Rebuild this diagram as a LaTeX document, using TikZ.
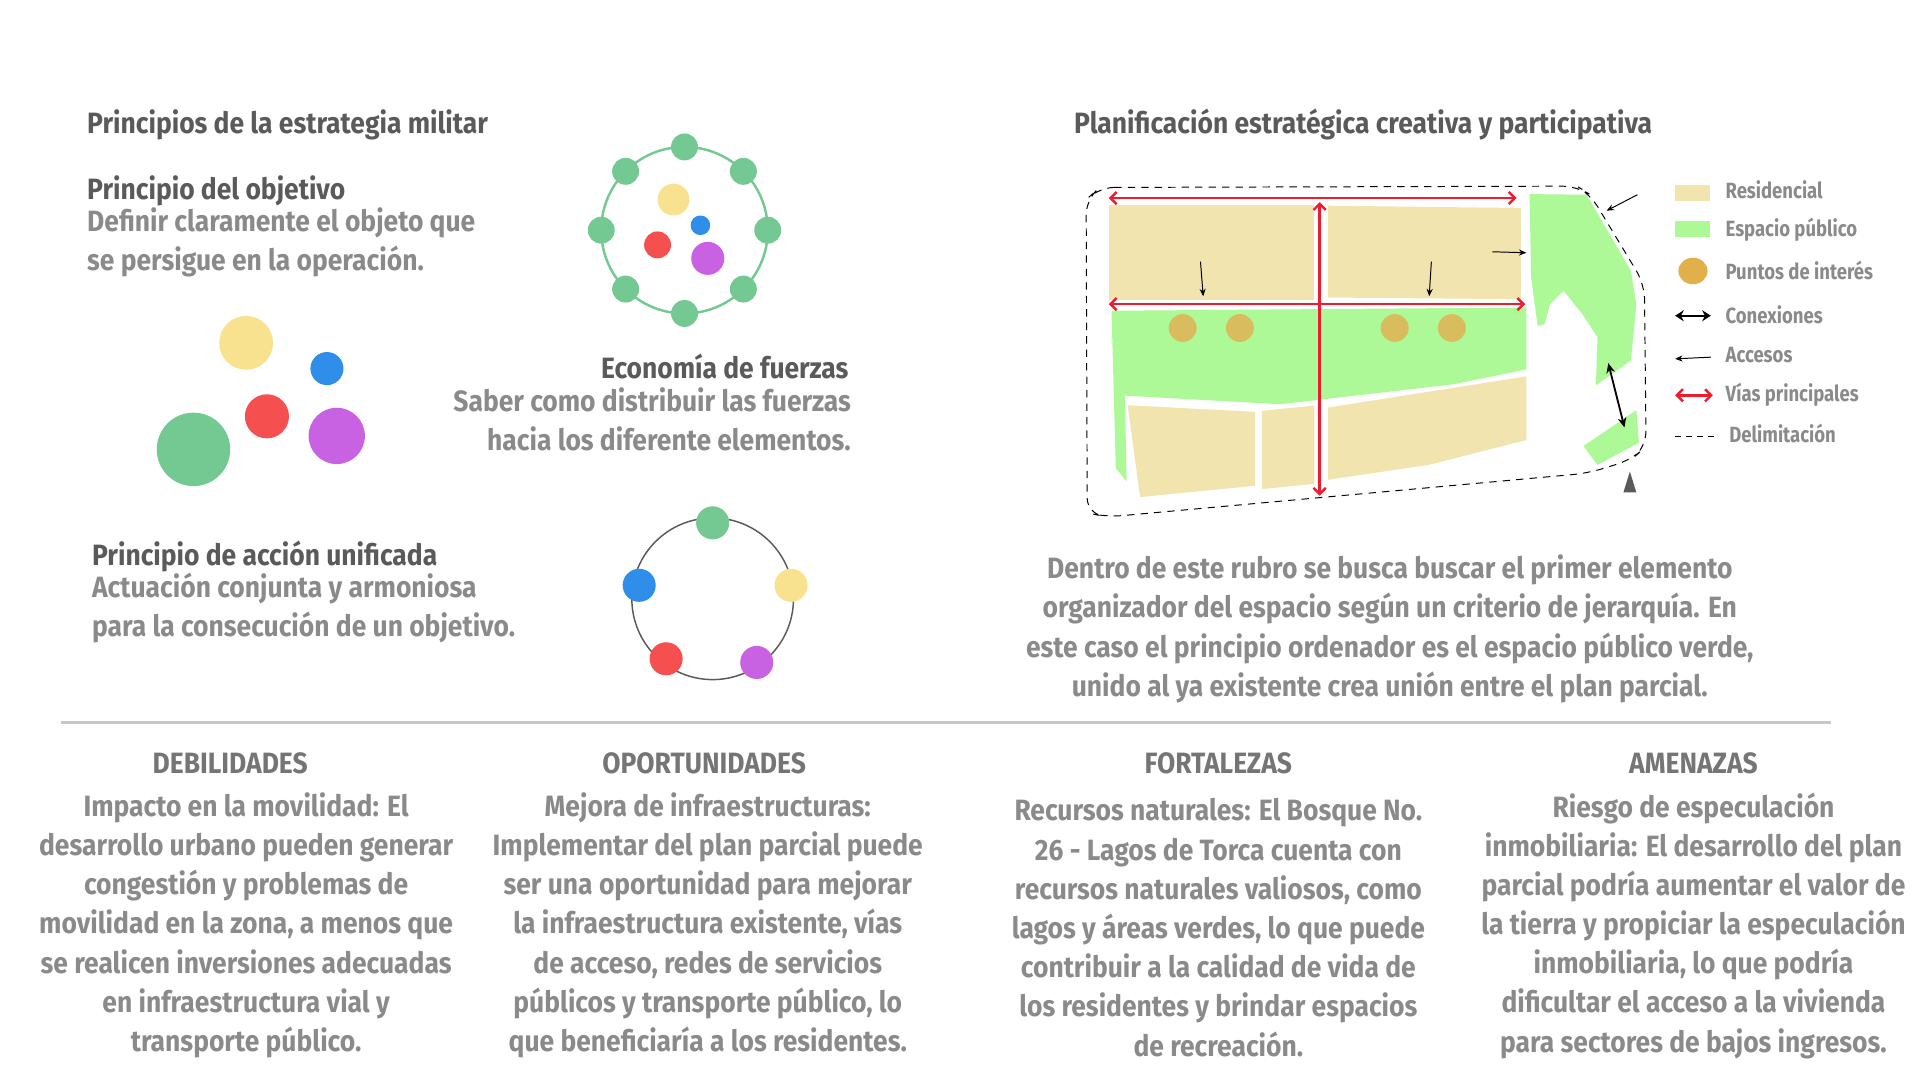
\documentclass[tikz,border=0pt]{standalone}
\usepackage{fontspec}
\setmainfont{Fira Sans}[FakeStretch=0.9]
\usetikzlibrary{arrows.meta,calc}
\definecolor{tdark}{HTML}{5A5A5A}
\definecolor{tgray}{HTML}{8A8A8A}
\definecolor{res}{HTML}{F1E4AE}
\definecolor{pub}{HTML}{AEF997}
\definecolor{poi}{HTML}{D9BC5E}
\definecolor{cgreen}{HTML}{73C991}
\definecolor{cyellow}{HTML}{F8E28F}
\definecolor{cblue}{HTML}{2E8EEA}
\definecolor{cred}{HTML}{F5504F}
\definecolor{cpurple}{HTML}{C962E2}
\definecolor{vred}{HTML}{EE1C2E}
\tikzset{
 ttl/.style={anchor=base west,font=\fontsize{24}{32}\selectfont\bfseries,text=tdark,inner sep=0},
 body/.style={anchor=base west,font=\fontsize{24}{32}\selectfont\bfseries,text=tgray,inner sep=0,align=left},
 bodyc/.style={anchor=north,font=\fontsize{24}{32}\selectfont\bfseries,text=tgray,inner sep=0,align=center},
 hdr/.style={anchor=base,font=\fontsize{24}{32}\selectfont\bfseries,text=tgray!85!black,inner sep=0},
 dot/.style={circle,inner sep=0,minimum size=#1},
 vred/.style={draw=vred,line width=2pt,{Straight Barb[length=5pt,width=10pt]}-{Straight Barb[length=5pt,width=10pt]}},
 acc/.style={draw=black,line width=0.8pt,-{Stealth[length=6pt,width=5pt]}},
 lgd/.style={anchor=west,font=\fontsize{18}{20}\selectfont\bfseries\addfontfeature{FakeStretch=0.84},text=tgray,inner sep=0},
}
\begin{document}
\begin{tikzpicture}[x=1pt,y=-1pt]
\useasboundingbox (0,0) rectangle (1568,882);
% left titles
\node[ttl] (t1) at (71,109) {Principios de la estrategia militar};
\node[ttl] (t2) at (877,109) {Planificación estratégica creativa y participativa};
\node[ttl] (p1) at (71,163) {Principio del objetivo};
\node[body] (p1b) at (71,221) {Definir claramente el objeto que\\se persigue en la operación.};
% circles cluster
\node[dot=44,fill=cyellow] (c1) at (201,280) {};
\node[dot=27,fill=cblue] (c2) at (267,301) {};
\node[dot=36,fill=cred] (c3) at (218,340) {};
\node[dot=46,fill=cpurple] (c4) at (275,356) {};
\node[dot=60,fill=cgreen] (c5) at (158,367) {};
% top ring
\node[circle,draw=cgreen,line width=2pt,minimum size=136,inner sep=0] (r1) at (559,188) {};
\foreach \a in {0,45,...,315}{\node[dot=22,fill=cgreen] at ($(559,188)+(\a:68)$) {};}
\node[dot=26,fill=cyellow] (i1) at (550,163) {};
\node[dot=16,fill=cblue] (i2) at (572,184) {};
\node[dot=22,fill=cred] (i3) at (537,200) {};
\node[dot=27,fill=cpurple] (i4) at (578,211) {};
\node[ttl,anchor=base east] (e1) at (693,309) {Economía de fuerzas};
\node[body,anchor=base east,align=right] (e2) at (695,368) {Saber como distribuir las fuerzas\\hacia los diferente elementos.};
\node[ttl] (u1) at (75,462) {Principio de acción unificada};
\node[body] (u2) at (75,520) {Actuación conjunta y armoniosa\\para la consecución de un objetivo.};
% bottom ring
\node[circle,draw=tdark,line width=1.2pt,minimum size=132,inner sep=0] (r2) at (582,489) {};
\node[dot=27,fill=cgreen] (b1) at (582,427) {};
\node[dot=27,fill=cyellow] (b2) at (646,478) {};
\node[dot=27,fill=cpurple] (b3) at (618,541) {};
\node[dot=27,fill=cred] (b4) at (544,538) {};
\node[dot=27,fill=cblue] (b5) at (522,478) {};
% map
\begin{scope}[shift={(878.2,140.1)},x=0.4405pt,y=-0.2707pt]
\fill[res] (62,100) rectangle (443,388);
\fill[res] (468,103) -- (826,110) -- (826,385) -- (468,380) -- cycle;
\fill[pub] (67,420) -- (836,410) -- (836,597) -- (700,642) -- (380,702) -- (92,676) -- (95,935) -- (75,895) -- cycle;
\fill[res] (97,705) -- (333,725) -- (333,948) -- (120,982) -- cycle;
\fill[res] (346,722) -- (443,706) -- (443,942) -- (346,958) -- cycle;
\fill[res] (468,712) -- (836,618) -- (836,810) -- (655,885) -- (468,930) -- cycle;
\fill[pub] (842,68) -- (948,70) -- (1030,300) -- (1040,400) -- (1030,570) -- (965,645) -- (968,500) -- (940,430) -- (905,360) -- (880,400) -- (870,460) -- (857,466) -- (845,320) -- cycle;
\fill[pub] (942,828) -- (1040,720) -- (1045,818) -- (968,885) -- cycle;
\foreach \x in {199,305,592,698}{\fill[poi] (\x,472) ellipse (26 and 42);}
\coordinate (h1a) at (62,80); \coordinate (h1b) at (818,80);
\coordinate (h2a) at (62,400); \coordinate (h2b) at (834,400);
\coordinate (va) at (453,92); \coordinate (vb) at (453,978);
\draw[vred] (h1a) -- (h1b);
\draw[vred] (h2a) -- (h2b);
\draw[vred] (va) -- (vb);
\coordinate (a1) at (232,272); \coordinate (a1e) at (237,376);
\coordinate (a2) at (660,272); \coordinate (a2e) at (656,376);
\coordinate (a3) at (773,242); \coordinate (a3e) at (836,245);
\coordinate (a4) at (1042,70); \coordinate (a4e) at (985,118);
\draw[acc] (a1) -- (a1e); \draw[acc] (a2) -- (a2e); \draw[acc] (a3) -- (a3e); \draw[acc] (a4) -- (a4e);
\coordinate (k1) at (988,578); \coordinate (k2) at (1018,772);
\draw[line width=1.5pt,{Stealth[length=8pt,width=7pt]}-{Stealth[length=8pt,width=7pt]}] (k1) -- (k2);
\draw[dashed,dash pattern=on 6pt off 5pt,line width=0.8pt,rounded corners=12pt] (45,48) -- (930,44) -- (955,70) -- (1055,340) -- (1058,830) -- (1030,870) -- (950,910) -- (60,1042) -- (22,1030) -- (20,85) -- cycle;
\fill[tdark] (1016,968) -- (1040,968) -- (1028,905) -- cycle;
% legend
\fill[res] (1112,40) rectangle (1176,88);
\fill[pub] (1112,150) rectangle (1176,198);
\fill[poi!80!orange] (1145,300) ellipse (27 and 40);
\coordinate (l1) at (1112,435); \coordinate (l1e) at (1178,435);
\draw[line width=1.8pt,{Stealth[length=7pt,width=9pt]}-{Stealth[length=7pt,width=9pt]}] (l1) -- (l1e);
\coordinate (l2) at (1178,560); \coordinate (l2e) at (1112,565);
\draw[acc] (l2) -- (l2e);
\coordinate (l3) at (1112,675); \coordinate (l3e) at (1182,675);
\draw[vred] (l3) -- (l3e);
\coordinate (l4) at (1112,800); \coordinate (l4e) at (1185,800);
\draw[dashed,dash pattern=on 5pt off 4pt,line width=1pt] (l4) -- (l4e);
\node[lgd] (g1) at (1205,55) {Residencial};
\node[lgd] (g2) at (1205,175) {Espacio público};
\node[lgd] (g3) at (1205,298) {Puntos de interés};
\node[lgd] (g4) at (1205,433) {Conexiones};
\node[lgd] (g5) at (1205,555) {Accesos};
\node[lgd] (g6) at (1205,672) {Vías principales};
\node[lgd] (g7) at (1212,790) {Delimitación};
\end{scope}
\node[bodyc] (para) at (1135,453) {Dentro de este rubro se busca buscar el primer elemento\\organizador del espacio según un criterio de jerarquía. En\\este caso el principio ordenador es el espacio público verde,\\unido al ya existente crea unión entre el plan parcial.};
\coordinate (s1) at (50,590); \coordinate (s2) at (1495,590);
\draw[black!22,line width=2pt] (s1) -- (s2);
% SWOT
\node[hdr] (h1) at (188,632) {DEBILIDADES};
\node[hdr] (h2) at (575,632) {OPORTUNIDADES};
\node[hdr] (h3) at (995,632) {FORTALEZAS};
\node[hdr] (h4) at (1383,632) {AMENAZAS};
\node[bodyc] (d1) at (201,647) {Impacto en la movilidad: El\\desarrollo urbano pueden generar\\congestión y problemas de\\movilidad en la zona, a menos que\\se realicen inversiones adecuadas\\en infraestructura vial y\\transporte público.};
\node[bodyc] (d2) at (578,647) {Mejora de infraestructuras:\\Implementar del plan parcial puede\\ser una oportunidad para mejorar\\la infraestructura existente, vías\\de acceso, redes de servicios\\públicos y transporte público, lo\\que beneficiaría a los residentes.};
\node[bodyc] (d3) at (995,652) {Recursos naturales: El Bosque No.\\26 - Lagos de Torca cuenta con\\recursos naturales valiosos, como\\lagos y áreas verdes, lo que puede\\contribuir a la calidad de vida de\\los residentes y brindar espacios\\de recreación.};
\node[bodyc] (d4) at (1383,647) {Riesgo de especulación\\inmobiliaria: El desarrollo del plan\\parcial podría aumentar el valor de\\la tierra y propiciar la especulación\\inmobiliaria, lo que podría\\dificultar el acceso a la vivienda\\para sectores de bajos ingresos.};
\end{tikzpicture}
\end{document}
